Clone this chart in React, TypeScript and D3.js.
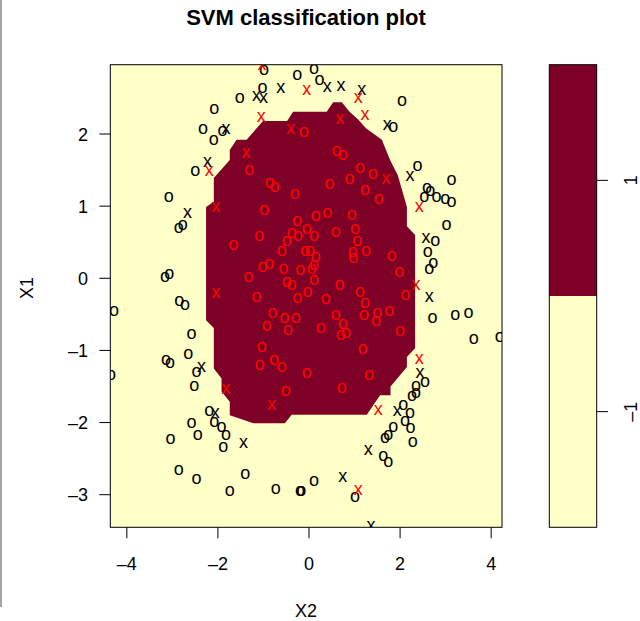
import { scaleLinear, line } from 'd3'

const width = 640
const height = 621

const plotLeft = 110.3
const plotRight = 502
const plotTop = 64.7
const plotBottom = 527.3

const xTicks = [-4, -2, 0, 2, 4]
const yTicks = [-3, -2, -1, 0, 1, 2]

// decision region of class 1 (X2, X1)
const region1 = [
  [-1.01, 2.18], [-0.48, 2.18], [-0.35, 2.31], [0.39, 2.31], [0.53, 2.44],
  [0.72, 2.44], [0.89, 2.31], [1.08, 2.2], [1.25, 2.08], [1.6, 1.92],
  [1.78, 1.64], [1.95, 1.43], [2.15, 0.99], [2.15, 0.72], [2.33, 0.6],
  [2.33, -0.97], [2.15, -1.09], [2.15, -1.23], [1.79, -1.5], [1.79, -1.62],
  [1.56, -1.62], [1.27, -1.89], [-0.38, -1.89], [-0.53, -2.01], [-1.22, -2.01],
  [-1.74, -1.9], [-1.74, -1.71], [-1.92, -1.57], [-1.92, -1.39], [-2.09, -1.25],
  [-2.09, -0.69], [-2.26, -0.58], [-2.26, 0.99], [-2.09, 1.06], [-2.09, 1.39],
  [-1.74, 1.64], [-1.74, 1.78], [-1.59, 1.92], [-1.37, 1.92],
]

// class -1, not support vectors
const negO = [
  [-0.99, 2.89], [-0.26, 2.81], [-1.02, 2.64], [-1.52, 2.5], [-2.08, 2.34],
  [-2.33, 2.06], [-1.9, 2.04], [-2.09, 1.92], [-2.5, 1.49], [-3.08, 1.13],
  [0.11, 2.9], [0.23, 2.75], [2.04, 2.45], [1.85, 2.09], [2.38, 1.55],
  [3.13, 1.36], [2.59, 1.25], [2.66, 1.21], [2.53, 1.13], [2.8, 1.13],
  [2.99, 1.09], [3.13, 1.06], [-2.86, 0.7], [-2.77, 0.74], [-3.16, 0.02],
  [-3.07, 0.06], [-2.85, -0.32], [-2.72, -0.37], [-4.28, -0.46], [-2.58, -0.78],
  [-2.65, -1.05], [-3.14, -1.13], [-3.05, -1.18], [3.02, 0.73], [2.77, 0.51],
  [2.61, 0.36], [2.73, 0.21], [2.64, 0.13], [2.71, -0.55], [3.21, -0.51],
  [3.5, -0.49], [3.62, -0.84], [4.19, -0.81], [-2.47, -1.3], [-4.35, -1.35],
  [-2.52, -1.49], [-2.19, -1.84], [-2.58, -2.01], [-2.08, -1.99], [-1.92, -2.06],
  [-1.82, -2.18], [-2.44, -2.17], [-3.04, -2.23], [-1.88, -2.34], [-2.86, -2.66],
  [-2.47, -2.78], [-1.4, -2.71], [-1.74, -2.95], [-0.73, -2.92], [-0.2, -2.95],
  [-0.17, -2.95], [2.35, -1.49], [2.55, -1.44], [2.35, -1.59], [2.26, -1.63],
  [2.07, -1.76], [2.22, -1.87], [2.11, -1.98], [2.23, -2.08], [1.85, -2.06],
  [1.74, -2.17], [1.67, -2.21], [2.28, -2.27], [1.63, -2.46], [1.74, -2.55],
  [0.11, -2.81], [1.01, -3.04],
]

// class -1, support vectors
const negX = [
  [-1.15, 2.53], [-1.0, 2.5], [-0.62, 2.63], [-1.82, 2.07], [-2.23, 1.61],
  [-2.67, 0.9], [0.4, 2.65], [0.7, 2.66], [1.16, 2.61], [1.72, 2.12],
  [2.22, 1.41], [2.57, 0.55], [2.64, -0.26], [-2.36, -1.23], [-2.06, -1.87],
  [-1.44, -2.29], [2.44, -1.32], [1.94, -1.84], [1.3, -2.39], [0.74, -2.76],
  [1.36, -3.44],
]

// class 1, not support vectors
const posO = [
  [-0.11, 2.02], [-1.31, 1.5], [-0.86, 1.32], [-0.76, 1.26], [-0.31, 1.16],
  [-0.98, 0.95], [0.61, 1.76], [0.74, 1.7], [1.12, 1.52], [1.4, 1.44],
  [0.89, 1.38], [0.45, 1.3], [1.23, 1.22], [1.53, 1.1], [0.4, 0.9],
  [0.94, 0.87], [0.15, 0.86], [-0.26, 0.79], [-1.09, 0.58], [-0.38, 0.62],
  [-0.05, 0.68], [-0.24, 0.59], [-1.66, 0.46], [-0.49, 0.51], [-0.6, 0.38],
  [-0.09, 0.37], [0.02, 0.38], [-0.87, 0.2], [-1.02, 0.15], [-0.56, 0.13],
  [-0.19, 0.11], [-1.33, 0.01], [-0.49, -0.05], [-0.38, -0.09], [-0.03, -0.19],
  [-1.15, -0.26], [-0.25, -0.27], [-0.8, -0.48], [-0.54, -0.56], [-0.29, -0.55],
  [-0.93, -0.66], [-0.46, -0.72], [-1.04, -0.96], [-0.77, -1.14], [-1.08, -1.21],
  [-0.6, -1.23], [0.59, 0.64], [1.01, 0.68], [1.06, 0.51], [1.25, 0.38],
  [0.11, 0.58], [0.15, 0.29], [0.96, 0.36], [0.97, 0.28], [1.82, 0.3],
  [0.11, 0.18], [0.06, 0.12], [0.11, -0.02], [1.98, 0.09], [0.67, -0.09],
  [1.12, -0.19], [0.37, -0.29], [1.23, -0.35], [2.12, -0.23], [0.59, -0.51],
  [1.21, -0.51], [1.5, -0.49], [1.47, -0.6], [1.76, -0.45], [0.74, -0.64],
  [0.26, -0.69], [0.7, -0.79], [0.81, -0.76], [2.0, -0.73], [1.18, -0.98],
  [-0.05, -1.32], [-0.51, -1.56], [1.32, -1.35], [0.72, -1.53],
]

// class 1, support vectors
const posX = [
  [-1.03, 2.96], [-0.05, 2.61], [-1.05, 2.23], [-0.4, 2.06], [-1.38, 1.74],
  [-2.19, 1.48], [-2.04, 0.99], [1.08, 2.5], [1.23, 2.26], [0.68, 2.21],
  [1.69, 1.38], [2.42, 0.98], [-2.04, -0.21], [2.35, -0.09], [2.42, -1.12],
  [-1.82, -1.54], [-0.82, -1.76], [1.52, -1.83], [1.08, -2.94],
]

// key: two levels, each tick in the middle of its band
const keyBreaks = [-2, 0, 2]
const keyTicks = [-1, 1]

const x = scaleLinear().domain([-4.363, 4.238]).range([plotLeft, plotRight])
const y = scaleLinear().domain([-3.452, 2.961]).range([plotBottom, plotTop])
const keyY = scaleLinear().domain([-2, 2]).range([527.3, 64.7])

const lightFill = '#FFFFC8'
const darkFill = '#7F0026'
const font = '"Liberation Sans", Arial, Helvetica, sans-serif'

const regionPath = line()
  .x((d) => x(d[0]))
  .y((d) => y(d[1]))

const fmt = (t) => (t < 0 ? '\u2013' + Math.abs(t) : String(t))

function Marks({ data, ch, color }) {
  return data.map((d, i) => (
    <text
      key={i}
      x={x(d[0])}
      y={y(d[1]) + 4.8}
      textAnchor="middle"
      fontSize={18}
      fill={color}
    >
      {ch}
    </text>
  ))
}

export default function App() {
  return (
    <svg
      width={width}
      height={height}
      style={{ position: 'absolute', left: 0, top: 0, background: '#fff' }}
      fontFamily={font}
    >
      <defs>
        <clipPath id="plotClip">
          <rect x={plotLeft} y={plotTop} width={plotRight - plotLeft} height={plotBottom - plotTop} />
        </clipPath>
      </defs>
      <line x1={1} x2={1} y1={0} y2={607} stroke="#888" strokeWidth={1.5} />

      <text x={306} y={25} textAnchor="middle" fontSize={22} fontWeight="bold">
        SVM classification plot
      </text>

      <g clipPath="url(#plotClip)">
        <rect x={plotLeft} y={plotTop} width={plotRight - plotLeft} height={plotBottom - plotTop} fill={lightFill} />
        <path d={regionPath(region1) + 'Z'} fill={darkFill} />
        <Marks data={negO} ch="o" color="#000" />
        <Marks data={negX} ch="x" color="#000" />
        <Marks data={posO} ch="o" color="#FF0000" />
        <Marks data={posX} ch="x" color="#FF0000" />
      </g>
      <rect
        x={plotLeft}
        y={plotTop}
        width={plotRight - plotLeft}
        height={plotBottom - plotTop}
        fill="none"
        stroke="#000"
      />

      {xTicks.map((t) => (
        <g key={t}>
          <line x1={x(t)} x2={x(t)} y1={plotBottom} y2={plotBottom + 11} stroke="#000" />
          <text x={x(t)} y={570} textAnchor="middle" fontSize={18}>
            {fmt(t)}
          </text>
        </g>
      ))}
      {yTicks.map((t) => (
        <g key={t}>
          <line x1={plotLeft - 11} x2={plotLeft} y1={y(t)} y2={y(t)} stroke="#000" />
          <text x={88} y={y(t) + 6.5} textAnchor="end" fontSize={18}>
            {fmt(t)}
          </text>
        </g>
      ))}
      <text x={306} y={617} textAnchor="middle" fontSize={18}>
        X2
      </text>
      <text transform="translate(33,288) rotate(-90)" textAnchor="middle" fontSize={18}>
        X1
      </text>

      <g>
        <rect
          x={549.3}
          y={keyY(keyBreaks[2])}
          width={47.4}
          height={keyY(keyBreaks[1]) - keyY(keyBreaks[2])}
          fill={darkFill}
        />
        <rect
          x={549.3}
          y={keyY(keyBreaks[1])}
          width={47.4}
          height={keyY(keyBreaks[0]) - keyY(keyBreaks[1])}
          fill={lightFill}
        />
        <rect
          x={549.3}
          y={keyY(keyBreaks[2])}
          width={47.4}
          height={keyY(keyBreaks[0]) - keyY(keyBreaks[2])}
          fill="none"
          stroke="#000"
        />
        {keyTicks.map((t) => (
          <g key={t}>
            <line x1={596.7} x2={608} y1={keyY(t)} y2={keyY(t)} stroke="#000" />
            <text transform={`translate(637,${keyY(t)}) rotate(-90)`} textAnchor="middle" fontSize={18}>
              {fmt(t)}
            </text>
          </g>
        ))}
      </g>
    </svg>
  )
}
